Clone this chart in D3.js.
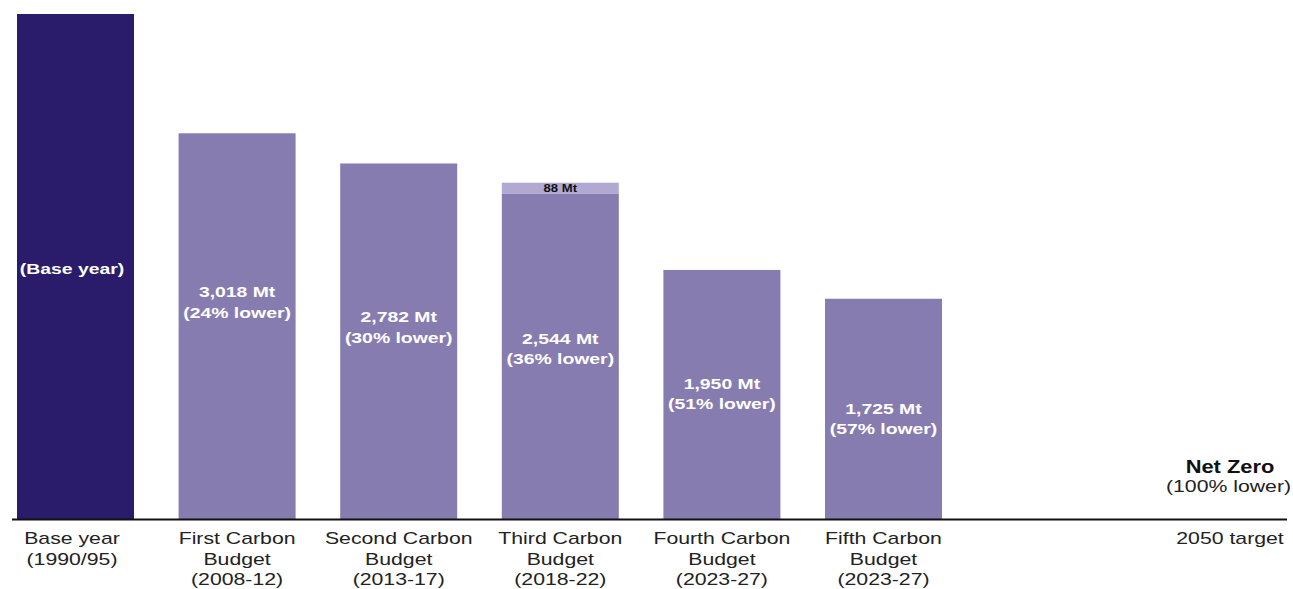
<!DOCTYPE html>
<html>
<head>
<meta charset="utf-8">
<script src="https://cdn.jsdelivr.net/npm/d3@7"></script>
<style>
  html, body { margin: 0; padding: 0; background: #fff; }
  svg { display: block; font-family: "Liberation Sans", Arial, Helvetica, sans-serif; }
</style>
</head>
<body>
<svg id="chart" width="1293" height="589"></svg>
<script>
// Emissions per carbon budget period, Mt CO2e
const categories = [
  ["Base year", "(1990/95)"],
  ["First Carbon", "Budget", "(2008-12)"],
  ["Second Carbon", "Budget", "(2013-17)"],
  ["Third Carbon", "Budget", "(2018-22)"],
  ["Fourth Carbon", "Budget", "(2023-27)"],
  ["Fifth Carbon", "Budget", "(2023-27)"]
];
const budgetValues = [3950, 3018, 2782, 2544, 1950, 1725];
const extraValues = [0, 0, 0, 88, 0, 0];
const reductionPct = [null, 24, 30, 36, 51, 57];
const targetLabel = "2050 target";
const targetName = "Net Zero";
const targetReduction = 100;

const W = 1293, H = 589;
const baseY = 519.5;
const stretch = 1.25; // horizontal widening applied to all type

const svg = d3.select("#chart");
const keys = categories.map(c => c.join(" "));

const x = d3.scaleBand()
  .domain(keys)
  .range([17, 942])
  .paddingInner(0.276)
  .paddingOuter(0);

const y = d3.scaleLinear()
  .domain([0, 3950])
  .range([baseY, 14]);

const colMain = "#877cb0";
const colBase = "#2a1c6a";
const colExtra = "#b2a9d3";

// Text helper: each line centred on cx, widened horizontally
function textLines(g, cx, y0, lines, lh, opts) {
  lines.forEach((t, i) => {
    g.append("text")
      .attr("transform", `translate(${cx},${y0 + i * lh}) scale(${stretch},1)`)
      .attr("text-anchor", "middle")
      .attr("font-size", opts.size)
      .attr("font-weight", opts.weight || "normal")
      .attr("fill", opts.fill)
      .text(t);
  });
}

// Horizontal text centre for a column (base-year text sits slightly left)
const textX = i => x(keys[i]) + x.bandwidth() / 2 - (i === 0 ? 3.5 : 0);

// Bars
const bars = svg.append("g");
bars.selectAll("rect.main")
  .data(budgetValues)
  .join("rect")
  .attr("class", "main")
  .attr("x", (d, i) => x(keys[i]))
  .attr("width", x.bandwidth())
  .attr("y", d => y(d))
  .attr("height", d => y(0) - y(d))
  .attr("fill", (d, i) => i === 0 ? colBase : colMain);

// Additional allowance stacked on top
bars.selectAll("rect.extra")
  .data(extraValues.map((e, i) => ({ e, i })).filter(d => d.e > 0))
  .join("rect")
  .attr("class", "extra")
  .attr("x", d => x(keys[d.i]))
  .attr("width", x.bandwidth())
  .attr("y", d => y(budgetValues[d.i] + d.e))
  .attr("height", d => y(budgetValues[d.i]) - y(budgetValues[d.i] + d.e))
  .attr("fill", colExtra);

const labels = svg.append("g");
extraValues.forEach((e, i) => {
  if (e > 0) {
    const top = y(budgetValues[i] + e), bot = y(budgetValues[i]);
    textLines(labels, textX(i), (top + bot) / 2 + 3.8,
      [`${e} Mt`], 0, { size: 10.5, weight: "bold", fill: "#111" });
  }
});

// In-bar value labels
const labelBaseline = [274, 297, 322, 343.5, 388.5, 413.5];
const fmt = d3.format(",");
budgetValues.forEach((v, i) => {
  const lines = reductionPct[i] == null
    ? ["(Base year)"]
    : [`${fmt(v)} Mt`, `(${reductionPct[i]}% lower)`];
  textLines(labels, textX(i), labelBaseline[i], lines, 20.5,
    { size: 15.5, weight: "bold", fill: "#fff" });
});

// Baseline
svg.append("line")
  .attr("x1", 12).attr("x2", 1287)
  .attr("y1", baseY).attr("y2", baseY)
  .attr("stroke", "#111").attr("stroke-width", 2);

// Category labels below the axis
const axisLabels = svg.append("g");
categories.forEach((lines, i) => {
  textLines(axisLabels, textX(i), 544, lines, 20.7,
    { size: 17, fill: "#222" });
});

// 2050 target column
const targetX = 1230;
textLines(axisLabels, targetX, 544, [targetLabel], 0, { size: 17, fill: "#222" });
textLines(labels, targetX, 473, [targetName], 0, { size: 17.5, weight: "bold", fill: "#111" });
textLines(labels, targetX - 1.5, 492, [`(${targetReduction}% lower)`], 0, { size: 17, fill: "#222" });
</script>
</body>
</html>
